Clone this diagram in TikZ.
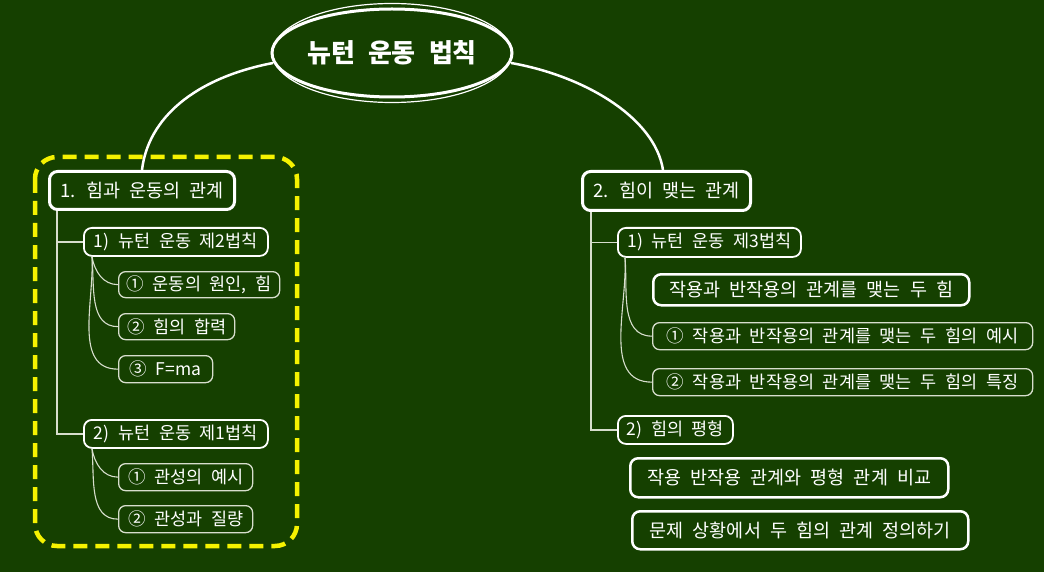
\documentclass[tikz,border=0pt]{standalone}
\usepackage{fontspec}
\usetikzlibrary{shapes.geometric}
\setmainfont{Noto Sans CJK KR}[WordSpace=2.2]
\definecolor{bg}{RGB}{21,64,0}
\definecolor{yel}{RGB}{245,242,0}
\definecolor{lgray}{RGB}{215,222,205}
\begin{document}
\begin{tikzpicture}[x=1pt,y=-1pt,
  every node/.style={text=white, inner sep=0pt, anchor=north west},
  lvlone/.style={draw=white, line width=3pt, rounded corners=8pt, font=\fontsize{18.5}{21}\selectfont},
  lvltwo/.style={draw=white, line width=1.8pt, rounded corners=8pt, font=\fontsize{17.5}{20}\selectfont},
  lvlthree/.style={draw=lgray, line width=1.3pt, rounded corners=7pt, font=\fontsize{17.5}{20}\selectfont},
  floatbox/.style={draw=white, line width=2.5pt, rounded corners=8pt, font=\fontsize{18.5}{21}\selectfont},
  mainlink/.style={draw=white, line width=2.5pt},
  trunk/.style={draw=lgray, line width=1.5pt},
  sublink/.style={draw=lgray, line width=1.1pt}
]
\fill[bg] (0,0) rectangle (1044,572);
\useasboundingbox (0,0) rectangle (1044,572);

% yellow dashed frame
\draw[yel, line width=4.5pt, dash pattern=on 14pt off 8pt, rounded corners=22pt]
  (35,157) rectangle (297,546);

% root
\node[draw=white, line width=1.2pt, ellipse, minimum width=239, minimum height=99, anchor=center] (rootout) at (392,53) {};
\node[draw=white, line width=3pt, ellipse, minimum width=228, minimum height=88, anchor=center,
  font=\fontsize{26}{30}\selectfont\bfseries] (root) at (392,53) {뉴턴 운동 법칙};

% level 1
\node[lvlone, minimum width=185, minimum height=38] (n1) at (48,170) {1. 힘과 운동의 관계};
\node[lvlone, minimum width=168, minimum height=39] (n2) at (581,170) {2. 힘이 맺는 관계};

% left branch
\node[lvltwo, minimum width=184, minimum height=28] (n11) at (83,227) {1) 뉴턴 운동 제2법칙};
\node[lvlthree, minimum width=161, minimum height=26] (n111) at (118,271) {① 운동의 원인, 힘};
\node[lvlthree, minimum width=116, minimum height=26] (n112) at (118,313) {② 힘의 합력};
\node[lvlthree, minimum width=94, minimum height=27] (n113) at (118,355) {③ F=ma};
\node[lvltwo, minimum width=184, minimum height=28] (n12) at (83,419) {2) 뉴턴 운동 제1법칙};
\node[lvlthree, minimum width=134, minimum height=27] (n121) at (118,463) {① 관성의 예시};
\node[lvlthree, minimum width=134, minimum height=27] (n122) at (118,505) {② 관성과 질량};

% right branch
\node[lvltwo, minimum width=183, minimum height=29] (n21) at (617,227) {1) 뉴턴 운동 제3법칙};
\node[floatbox, minimum width=316, minimum height=31] (f1) at (652,273) {작용과 반작용의 관계를 맺는 두 힘};
\node[lvlthree, minimum width=380, minimum height=27] (n211) at (652,322) {① 작용과 반작용의 관계를 맺는 두 힘의 예시};
\node[lvlthree, minimum width=380, minimum height=27] (n212) at (652,368) {② 작용과 반작용의 관계를 맺는 두 힘의 특징};
\node[lvltwo, minimum width=115, minimum height=28] (n22) at (617,415) {2) 힘의 평형};
\node[floatbox, minimum width=318, minimum height=39] (f2) at (629,457) {작용 반작용 관계와 평형 관계 비교};
\node[floatbox, minimum width=336, minimum height=38] (f3) at (631,510) {문제 상황에서 두 힘의 관계 정의하기};

% main links
\draw[mainlink] (rootout.west) ++(1,10) coordinate (rl)
  (rl) .. controls (195,78) and (148,118) .. ([xshift=94]n1.north west);
\draw[mainlink] (rootout.east) ++(-1,10) coordinate (rr)
  (rr) .. controls (585,76) and (655,118) .. ([xshift=82]n2.north west);

% trunks
\draw[trunk] ([xshift=9]n1.south west) |- (n11.west);
\draw[trunk] ([xshift=9]n1.south west) |- (n12.west);
\draw[trunk] ([xshift=10]n2.south west) |- (n21.west);
\draw[trunk] ([xshift=10]n2.south west) |- (n22.west);

% sub links
\draw[sublink] ([xshift=9]n11.south west) to[out=-80,in=180] (n111.west);
\draw[sublink] ([xshift=9]n11.south west) to[out=-85,in=180] (n112.west);
\draw[sublink] ([xshift=9]n11.south west) to[out=-87,in=180] (n113.west);
\draw[sublink] ([xshift=9]n12.south west) to[out=-80,in=180] (n121.west);
\draw[sublink] ([xshift=9]n12.south west) to[out=-85,in=180] (n122.west);
\draw[sublink] ([xshift=8]n21.south west) to[out=-85,in=180] (n211.west);
\draw[sublink] ([xshift=8]n21.south west) to[out=-87,in=180] (n212.west);
\end{tikzpicture}
\end{document}
